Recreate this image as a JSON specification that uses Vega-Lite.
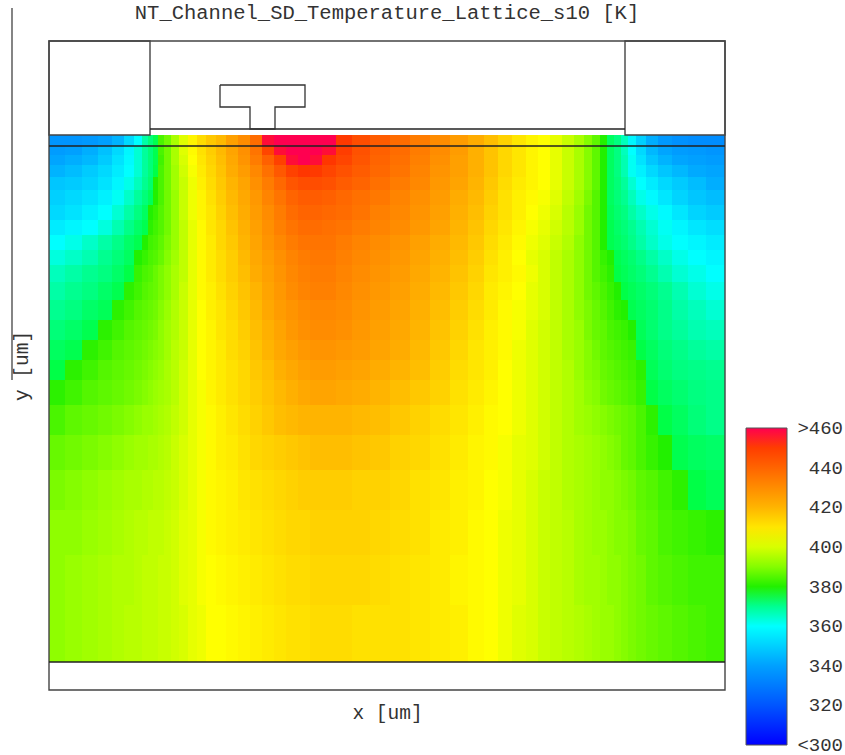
{"$schema":"https://vega.github.io/schema/vega-lite/v6.json","width":676,"height":649,"autosize":"none","padding":{"left":49,"top":41,"right":120,"bottom":65},"background":"white","title":{"text":"NT_Channel_SD_Temperature_Lattice_s10 [K]","font":"Liberation Mono","fontSize":20.5,"fontWeight":"normal","color":"#333333","anchor":"middle","offset":-16},"config":{"view":{"stroke":null}},"datasets":{"cols":[{"col":0,"x0":0,"x1":16},{"col":1,"x0":16,"x1":33},{"col":2,"x0":33,"x1":49},{"col":3,"x0":49,"x1":63},{"col":4,"x0":63,"x1":75},{"col":5,"x0":75,"x1":85},{"col":6,"x0":85,"x1":93},{"col":7,"x0":93,"x1":99},{"col":8,"x0":99,"x1":104},{"col":9,"x0":104,"x1":109},{"col":10,"x0":109,"x1":115},{"col":11,"x0":115,"x1":122},{"col":12,"x0":122,"x1":130},{"col":13,"x0":130,"x1":139},{"col":14,"x0":139,"x1":148},{"col":15,"x0":148,"x1":157},{"col":16,"x0":157,"x1":167},{"col":17,"x0":167,"x1":177},{"col":18,"x0":177,"x1":189},{"col":19,"x0":189,"x1":201},{"col":20,"x0":201,"x1":213},{"col":21,"x0":213,"x1":225},{"col":22,"x0":225,"x1":237},{"col":23,"x0":237,"x1":249},{"col":24,"x0":249,"x1":261},{"col":25,"x0":261,"x1":273},{"col":26,"x0":273,"x1":287},{"col":27,"x0":287,"x1":303},{"col":28,"x0":303,"x1":321},{"col":29,"x0":321,"x1":341},{"col":30,"x0":341,"x1":361},{"col":31,"x0":361,"x1":381},{"col":32,"x0":381,"x1":401},{"col":33,"x0":401,"x1":419},{"col":34,"x0":419,"x1":435},{"col":35,"x0":435,"x1":449},{"col":36,"x0":449,"x1":463},{"col":37,"x0":463,"x1":477},{"col":38,"x0":477,"x1":489},{"col":39,"x0":489,"x1":501},{"col":40,"x0":501,"x1":513},{"col":41,"x0":513,"x1":525},{"col":42,"x0":525,"x1":535},{"col":43,"x0":535,"x1":543},{"col":44,"x0":543,"x1":551},{"col":45,"x0":551,"x1":558},{"col":46,"x0":558,"x1":565},{"col":47,"x0":565,"x1":572},{"col":48,"x0":572,"x1":579},{"col":49,"x0":579,"x1":587},{"col":50,"x0":587,"x1":597},{"col":51,"x0":597,"x1":609},{"col":52,"x0":609,"x1":623},{"col":53,"x0":623,"x1":639},{"col":54,"x0":639,"x1":657},{"col":55,"x0":657,"x1":676}],"rows":[{"row":0,"y0":94,"y1":105},{"row":1,"y0":105,"y1":114},{"row":2,"y0":114,"y1":124},{"row":3,"y0":124,"y1":136},{"row":4,"y0":136,"y1":149},{"row":5,"y0":149,"y1":164},{"row":6,"y0":164,"y1":179},{"row":7,"y0":179,"y1":194},{"row":8,"y0":194,"y1":209},{"row":9,"y0":209,"y1":224},{"row":10,"y0":224,"y1":241},{"row":11,"y0":241,"y1":259},{"row":12,"y0":259,"y1":279},{"row":13,"y0":279,"y1":299},{"row":14,"y0":299,"y1":319},{"row":15,"y0":319,"y1":339},{"row":16,"y0":339,"y1":364},{"row":17,"y0":364,"y1":394},{"row":18,"y0":394,"y1":429},{"row":19,"y0":429,"y1":469},{"row":20,"y0":469,"y1":514},{"row":21,"y0":514,"y1":564},{"row":22,"y0":564,"y1":621}],"cells":[
{"col":0,"row":0,"T":337},{"col":1,"row":0,"T":337},{"col":2,"row":0,"T":338},{"col":3,"row":0,"T":340},{"col":4,"row":0,"T":344},{"col":5,"row":0,"T":352},{"col":6,"row":0,"T":360},{"col":7,"row":0,"T":368},{"col":8,"row":0,"T":373},{"col":9,"row":0,"T":378},{"col":10,"row":0,"T":384},{"col":11,"row":0,"T":388},{"col":12,"row":0,"T":394},{"col":13,"row":0,"T":401},{"col":14,"row":0,"T":407},{"col":15,"row":0,"T":412},{"col":16,"row":0,"T":416},{"col":17,"row":0,"T":419},{"col":18,"row":0,"T":425},{"col":19,"row":0,"T":430},{"col":20,"row":0,"T":438},{"col":21,"row":0,"T":459},{"col":22,"row":0,"T":460},{"col":23,"row":0,"T":462},{"col":24,"row":0,"T":462},{"col":25,"row":0,"T":462},{"col":26,"row":0,"T":460},{"col":27,"row":0,"T":451},{"col":28,"row":0,"T":446},{"col":29,"row":0,"T":442},{"col":30,"row":0,"T":438},{"col":31,"row":0,"T":434},{"col":32,"row":0,"T":430},{"col":33,"row":0,"T":426},{"col":34,"row":0,"T":422},{"col":35,"row":0,"T":418},{"col":36,"row":0,"T":414},{"col":37,"row":0,"T":410},{"col":38,"row":0,"T":407},{"col":39,"row":0,"T":405},{"col":40,"row":0,"T":402},{"col":41,"row":0,"T":398},{"col":42,"row":0,"T":394},{"col":43,"row":0,"T":390},{"col":44,"row":0,"T":386},{"col":45,"row":0,"T":380},{"col":46,"row":0,"T":376},{"col":47,"row":0,"T":372},{"col":48,"row":0,"T":366},{"col":49,"row":0,"T":358},{"col":50,"row":0,"T":350},{"col":51,"row":0,"T":343},{"col":52,"row":0,"T":338},{"col":53,"row":0,"T":336},{"col":54,"row":0,"T":335},{"col":55,"row":0,"T":335},
{"col":0,"row":1,"T":339},{"col":1,"row":1,"T":340},{"col":2,"row":1,"T":343},{"col":3,"row":1,"T":347},{"col":4,"row":1,"T":352},{"col":5,"row":1,"T":358},{"col":6,"row":1,"T":364},{"col":7,"row":1,"T":369},{"col":8,"row":1,"T":373},{"col":9,"row":1,"T":378},{"col":10,"row":1,"T":384},{"col":11,"row":1,"T":388},{"col":12,"row":1,"T":394},{"col":13,"row":1,"T":401},{"col":14,"row":1,"T":406},{"col":15,"row":1,"T":411},{"col":16,"row":1,"T":415},{"col":17,"row":1,"T":419},{"col":18,"row":1,"T":424},{"col":19,"row":1,"T":429},{"col":20,"row":1,"T":436},{"col":21,"row":1,"T":448},{"col":22,"row":1,"T":459},{"col":23,"row":1,"T":461},{"col":24,"row":1,"T":461},{"col":25,"row":1,"T":461},{"col":26,"row":1,"T":459},{"col":27,"row":1,"T":450},{"col":28,"row":1,"T":445},{"col":29,"row":1,"T":441},{"col":30,"row":1,"T":438},{"col":31,"row":1,"T":434},{"col":32,"row":1,"T":430},{"col":33,"row":1,"T":426},{"col":34,"row":1,"T":421},{"col":35,"row":1,"T":417},{"col":36,"row":1,"T":413},{"col":37,"row":1,"T":410},{"col":38,"row":1,"T":407},{"col":39,"row":1,"T":405},{"col":40,"row":1,"T":402},{"col":41,"row":1,"T":398},{"col":42,"row":1,"T":394},{"col":43,"row":1,"T":390},{"col":44,"row":1,"T":386},{"col":45,"row":1,"T":380},{"col":46,"row":1,"T":376},{"col":47,"row":1,"T":372},{"col":48,"row":1,"T":366},{"col":49,"row":1,"T":360},{"col":50,"row":1,"T":352},{"col":51,"row":1,"T":345},{"col":52,"row":1,"T":341},{"col":53,"row":1,"T":339},{"col":54,"row":1,"T":338},{"col":55,"row":1,"T":337},
{"col":0,"row":2,"T":341},{"col":1,"row":2,"T":343},{"col":2,"row":2,"T":345},{"col":3,"row":2,"T":349},{"col":4,"row":2,"T":354},{"col":5,"row":2,"T":359},{"col":6,"row":2,"T":364},{"col":7,"row":2,"T":369},{"col":8,"row":2,"T":373},{"col":9,"row":2,"T":378},{"col":10,"row":2,"T":383},{"col":11,"row":2,"T":388},{"col":12,"row":2,"T":394},{"col":13,"row":2,"T":400},{"col":14,"row":2,"T":405},{"col":15,"row":2,"T":410},{"col":16,"row":2,"T":414},{"col":17,"row":2,"T":418},{"col":18,"row":2,"T":423},{"col":19,"row":2,"T":428},{"col":20,"row":2,"T":434},{"col":21,"row":2,"T":441},{"col":22,"row":2,"T":449},{"col":23,"row":2,"T":459},{"col":24,"row":2,"T":460},{"col":25,"row":2,"T":459},{"col":26,"row":2,"T":452},{"col":27,"row":2,"T":448},{"col":28,"row":2,"T":444},{"col":29,"row":2,"T":440},{"col":30,"row":2,"T":437},{"col":31,"row":2,"T":433},{"col":32,"row":2,"T":429},{"col":33,"row":2,"T":425},{"col":34,"row":2,"T":421},{"col":35,"row":2,"T":417},{"col":36,"row":2,"T":413},{"col":37,"row":2,"T":410},{"col":38,"row":2,"T":407},{"col":39,"row":2,"T":405},{"col":40,"row":2,"T":402},{"col":41,"row":2,"T":398},{"col":42,"row":2,"T":394},{"col":43,"row":2,"T":390},{"col":44,"row":2,"T":386},{"col":45,"row":2,"T":380},{"col":46,"row":2,"T":376},{"col":47,"row":2,"T":372},{"col":48,"row":2,"T":367},{"col":49,"row":2,"T":361},{"col":50,"row":2,"T":354},{"col":51,"row":2,"T":348},{"col":52,"row":2,"T":344},{"col":53,"row":2,"T":341},{"col":54,"row":2,"T":340},{"col":55,"row":2,"T":339},
{"col":0,"row":3,"T":344},{"col":1,"row":3,"T":346},{"col":2,"row":3,"T":349},{"col":3,"row":3,"T":352},{"col":4,"row":3,"T":356},{"col":5,"row":3,"T":360},{"col":6,"row":3,"T":364},{"col":7,"row":3,"T":369},{"col":8,"row":3,"T":373},{"col":9,"row":3,"T":379},{"col":10,"row":3,"T":384},{"col":11,"row":3,"T":388},{"col":12,"row":3,"T":393},{"col":13,"row":3,"T":399},{"col":14,"row":3,"T":404},{"col":15,"row":3,"T":409},{"col":16,"row":3,"T":413},{"col":17,"row":3,"T":417},{"col":18,"row":3,"T":422},{"col":19,"row":3,"T":426},{"col":20,"row":3,"T":431},{"col":21,"row":3,"T":437},{"col":22,"row":3,"T":443},{"col":23,"row":3,"T":449},{"col":24,"row":3,"T":452},{"col":25,"row":3,"T":451},{"col":26,"row":3,"T":448},{"col":27,"row":3,"T":445},{"col":28,"row":3,"T":442},{"col":29,"row":3,"T":439},{"col":30,"row":3,"T":436},{"col":31,"row":3,"T":432},{"col":32,"row":3,"T":428},{"col":33,"row":3,"T":425},{"col":34,"row":3,"T":421},{"col":35,"row":3,"T":417},{"col":36,"row":3,"T":413},{"col":37,"row":3,"T":410},{"col":38,"row":3,"T":407},{"col":39,"row":3,"T":405},{"col":40,"row":3,"T":402},{"col":41,"row":3,"T":398},{"col":42,"row":3,"T":394},{"col":43,"row":3,"T":390},{"col":44,"row":3,"T":386},{"col":45,"row":3,"T":380},{"col":46,"row":3,"T":376},{"col":47,"row":3,"T":372},{"col":48,"row":3,"T":367},{"col":49,"row":3,"T":361},{"col":50,"row":3,"T":357},{"col":51,"row":3,"T":352},{"col":52,"row":3,"T":348},{"col":53,"row":3,"T":345},{"col":54,"row":3,"T":342},{"col":55,"row":3,"T":341},
{"col":0,"row":4,"T":348},{"col":1,"row":4,"T":349},{"col":2,"row":4,"T":351},{"col":3,"row":4,"T":354},{"col":4,"row":4,"T":358},{"col":5,"row":4,"T":362},{"col":6,"row":4,"T":366},{"col":7,"row":4,"T":370},{"col":8,"row":4,"T":374},{"col":9,"row":4,"T":380},{"col":10,"row":4,"T":384},{"col":11,"row":4,"T":388},{"col":12,"row":4,"T":393},{"col":13,"row":4,"T":398},{"col":14,"row":4,"T":403},{"col":15,"row":4,"T":408},{"col":16,"row":4,"T":412},{"col":17,"row":4,"T":416},{"col":18,"row":4,"T":420},{"col":19,"row":4,"T":424},{"col":20,"row":4,"T":429},{"col":21,"row":4,"T":434},{"col":22,"row":4,"T":439},{"col":23,"row":4,"T":444},{"col":24,"row":4,"T":446},{"col":25,"row":4,"T":446},{"col":26,"row":4,"T":445},{"col":27,"row":4,"T":442},{"col":28,"row":4,"T":440},{"col":29,"row":4,"T":437},{"col":30,"row":4,"T":434},{"col":31,"row":4,"T":431},{"col":32,"row":4,"T":427},{"col":33,"row":4,"T":424},{"col":34,"row":4,"T":420},{"col":35,"row":4,"T":416},{"col":36,"row":4,"T":412},{"col":37,"row":4,"T":409},{"col":38,"row":4,"T":407},{"col":39,"row":4,"T":405},{"col":40,"row":4,"T":402},{"col":41,"row":4,"T":398},{"col":42,"row":4,"T":394},{"col":43,"row":4,"T":390},{"col":44,"row":4,"T":386},{"col":45,"row":4,"T":380},{"col":46,"row":4,"T":376},{"col":47,"row":4,"T":373},{"col":48,"row":4,"T":369},{"col":49,"row":4,"T":364},{"col":50,"row":4,"T":360},{"col":51,"row":4,"T":356},{"col":52,"row":4,"T":352},{"col":53,"row":4,"T":349},{"col":54,"row":4,"T":346},{"col":55,"row":4,"T":343},
{"col":0,"row":5,"T":350},{"col":1,"row":5,"T":352},{"col":2,"row":5,"T":354},{"col":3,"row":5,"T":357},{"col":4,"row":5,"T":361},{"col":5,"row":5,"T":365},{"col":6,"row":5,"T":369},{"col":7,"row":5,"T":373},{"col":8,"row":5,"T":377},{"col":9,"row":5,"T":380},{"col":10,"row":5,"T":384},{"col":11,"row":5,"T":388},{"col":12,"row":5,"T":392},{"col":13,"row":5,"T":398},{"col":14,"row":5,"T":403},{"col":15,"row":5,"T":407},{"col":16,"row":5,"T":411},{"col":17,"row":5,"T":415},{"col":18,"row":5,"T":419},{"col":19,"row":5,"T":423},{"col":20,"row":5,"T":427},{"col":21,"row":5,"T":432},{"col":22,"row":5,"T":436},{"col":23,"row":5,"T":440},{"col":24,"row":5,"T":442},{"col":25,"row":5,"T":442},{"col":26,"row":5,"T":441},{"col":27,"row":5,"T":439},{"col":28,"row":5,"T":437},{"col":29,"row":5,"T":435},{"col":30,"row":5,"T":432},{"col":31,"row":5,"T":429},{"col":32,"row":5,"T":426},{"col":33,"row":5,"T":422},{"col":34,"row":5,"T":419},{"col":35,"row":5,"T":415},{"col":36,"row":5,"T":411},{"col":37,"row":5,"T":408},{"col":38,"row":5,"T":406},{"col":39,"row":5,"T":404},{"col":40,"row":5,"T":401},{"col":41,"row":5,"T":397},{"col":42,"row":5,"T":393},{"col":43,"row":5,"T":389},{"col":44,"row":5,"T":385},{"col":45,"row":5,"T":380},{"col":46,"row":5,"T":376},{"col":47,"row":5,"T":373},{"col":48,"row":5,"T":370},{"col":49,"row":5,"T":366},{"col":50,"row":5,"T":362},{"col":51,"row":5,"T":359},{"col":52,"row":5,"T":355},{"col":53,"row":5,"T":351},{"col":54,"row":5,"T":348},{"col":55,"row":5,"T":346},
{"col":0,"row":6,"T":352},{"col":1,"row":6,"T":354},{"col":2,"row":6,"T":357},{"col":3,"row":6,"T":360},{"col":4,"row":6,"T":364},{"col":5,"row":6,"T":368},{"col":6,"row":6,"T":372},{"col":7,"row":6,"T":376},{"col":8,"row":6,"T":380},{"col":9,"row":6,"T":382},{"col":10,"row":6,"T":385},{"col":11,"row":6,"T":388},{"col":12,"row":6,"T":392},{"col":13,"row":6,"T":398},{"col":14,"row":6,"T":403},{"col":15,"row":6,"T":407},{"col":16,"row":6,"T":410},{"col":17,"row":6,"T":414},{"col":18,"row":6,"T":418},{"col":19,"row":6,"T":422},{"col":20,"row":6,"T":426},{"col":21,"row":6,"T":430},{"col":22,"row":6,"T":434},{"col":23,"row":6,"T":438},{"col":24,"row":6,"T":440},{"col":25,"row":6,"T":440},{"col":26,"row":6,"T":439},{"col":27,"row":6,"T":438},{"col":28,"row":6,"T":436},{"col":29,"row":6,"T":433},{"col":30,"row":6,"T":431},{"col":31,"row":6,"T":428},{"col":32,"row":6,"T":425},{"col":33,"row":6,"T":421},{"col":34,"row":6,"T":418},{"col":35,"row":6,"T":414},{"col":36,"row":6,"T":411},{"col":37,"row":6,"T":408},{"col":38,"row":6,"T":405},{"col":39,"row":6,"T":403},{"col":40,"row":6,"T":400},{"col":41,"row":6,"T":396},{"col":42,"row":6,"T":392},{"col":43,"row":6,"T":388},{"col":44,"row":6,"T":385},{"col":45,"row":6,"T":380},{"col":46,"row":6,"T":377},{"col":47,"row":6,"T":374},{"col":48,"row":6,"T":372},{"col":49,"row":6,"T":368},{"col":50,"row":6,"T":365},{"col":51,"row":6,"T":362},{"col":52,"row":6,"T":359},{"col":53,"row":6,"T":355},{"col":54,"row":6,"T":351},{"col":55,"row":6,"T":349},
{"col":0,"row":7,"T":356},{"col":1,"row":7,"T":358},{"col":2,"row":7,"T":360},{"col":3,"row":7,"T":363},{"col":4,"row":7,"T":367},{"col":5,"row":7,"T":371},{"col":6,"row":7,"T":375},{"col":7,"row":7,"T":378},{"col":8,"row":7,"T":381},{"col":9,"row":7,"T":383},{"col":10,"row":7,"T":385},{"col":11,"row":7,"T":388},{"col":12,"row":7,"T":392},{"col":13,"row":7,"T":397},{"col":14,"row":7,"T":402},{"col":15,"row":7,"T":406},{"col":16,"row":7,"T":410},{"col":17,"row":7,"T":413},{"col":18,"row":7,"T":417},{"col":19,"row":7,"T":421},{"col":20,"row":7,"T":425},{"col":21,"row":7,"T":429},{"col":22,"row":7,"T":433},{"col":23,"row":7,"T":436},{"col":24,"row":7,"T":438},{"col":25,"row":7,"T":438},{"col":26,"row":7,"T":437},{"col":27,"row":7,"T":436},{"col":28,"row":7,"T":434},{"col":29,"row":7,"T":432},{"col":30,"row":7,"T":430},{"col":31,"row":7,"T":427},{"col":32,"row":7,"T":424},{"col":33,"row":7,"T":420},{"col":34,"row":7,"T":417},{"col":35,"row":7,"T":413},{"col":36,"row":7,"T":410},{"col":37,"row":7,"T":407},{"col":38,"row":7,"T":404},{"col":39,"row":7,"T":402},{"col":40,"row":7,"T":399},{"col":41,"row":7,"T":396},{"col":42,"row":7,"T":392},{"col":43,"row":7,"T":388},{"col":44,"row":7,"T":385},{"col":45,"row":7,"T":380},{"col":46,"row":7,"T":378},{"col":47,"row":7,"T":375},{"col":48,"row":7,"T":373},{"col":49,"row":7,"T":370},{"col":50,"row":7,"T":367},{"col":51,"row":7,"T":364},{"col":52,"row":7,"T":361},{"col":53,"row":7,"T":358},{"col":54,"row":7,"T":355},{"col":55,"row":7,"T":353},
{"col":0,"row":8,"T":360},{"col":1,"row":8,"T":362},{"col":2,"row":8,"T":365},{"col":3,"row":8,"T":368},{"col":4,"row":8,"T":371},{"col":5,"row":8,"T":375},{"col":6,"row":8,"T":378},{"col":7,"row":8,"T":380},{"col":8,"row":8,"T":383},{"col":9,"row":8,"T":384},{"col":10,"row":8,"T":386},{"col":11,"row":8,"T":389},{"col":12,"row":8,"T":392},{"col":13,"row":8,"T":397},{"col":14,"row":8,"T":402},{"col":15,"row":8,"T":406},{"col":16,"row":8,"T":409},{"col":17,"row":8,"T":413},{"col":18,"row":8,"T":416},{"col":19,"row":8,"T":420},{"col":20,"row":8,"T":424},{"col":21,"row":8,"T":428},{"col":22,"row":8,"T":431},{"col":23,"row":8,"T":434},{"col":24,"row":8,"T":436},{"col":25,"row":8,"T":436},{"col":26,"row":8,"T":436},{"col":27,"row":8,"T":434},{"col":28,"row":8,"T":432},{"col":29,"row":8,"T":430},{"col":30,"row":8,"T":428},{"col":31,"row":8,"T":425},{"col":32,"row":8,"T":422},{"col":33,"row":8,"T":419},{"col":34,"row":8,"T":416},{"col":35,"row":8,"T":412},{"col":36,"row":8,"T":409},{"col":37,"row":8,"T":406},{"col":38,"row":8,"T":403},{"col":39,"row":8,"T":401},{"col":40,"row":8,"T":398},{"col":41,"row":8,"T":395},{"col":42,"row":8,"T":391},{"col":43,"row":8,"T":388},{"col":44,"row":8,"T":385},{"col":45,"row":8,"T":380},{"col":46,"row":8,"T":378},{"col":47,"row":8,"T":376},{"col":48,"row":8,"T":374},{"col":49,"row":8,"T":371},{"col":50,"row":8,"T":368},{"col":51,"row":8,"T":365},{"col":52,"row":8,"T":362},{"col":53,"row":8,"T":360},{"col":54,"row":8,"T":358},{"col":55,"row":8,"T":356},
{"col":0,"row":9,"T":363},{"col":1,"row":9,"T":365},{"col":2,"row":9,"T":367},{"col":3,"row":9,"T":370},{"col":4,"row":9,"T":373},{"col":5,"row":9,"T":376},{"col":6,"row":9,"T":380},{"col":7,"row":9,"T":382},{"col":8,"row":9,"T":384},{"col":9,"row":9,"T":385},{"col":10,"row":9,"T":387},{"col":11,"row":9,"T":390},{"col":12,"row":9,"T":393},{"col":13,"row":9,"T":397},{"col":14,"row":9,"T":402},{"col":15,"row":9,"T":406},{"col":16,"row":9,"T":409},{"col":17,"row":9,"T":412},{"col":18,"row":9,"T":415},{"col":19,"row":9,"T":419},{"col":20,"row":9,"T":423},{"col":21,"row":9,"T":426},{"col":22,"row":9,"T":429},{"col":23,"row":9,"T":432},{"col":24,"row":9,"T":434},{"col":25,"row":9,"T":435},{"col":26,"row":9,"T":435},{"col":27,"row":9,"T":433},{"col":28,"row":9,"T":431},{"col":29,"row":9,"T":429},{"col":30,"row":9,"T":427},{"col":31,"row":9,"T":424},{"col":32,"row":9,"T":421},{"col":33,"row":9,"T":418},{"col":34,"row":9,"T":415},{"col":35,"row":9,"T":411},{"col":36,"row":9,"T":408},{"col":37,"row":9,"T":405},{"col":38,"row":9,"T":402},{"col":39,"row":9,"T":400},{"col":40,"row":9,"T":397},{"col":41,"row":9,"T":394},{"col":42,"row":9,"T":391},{"col":43,"row":9,"T":388},{"col":44,"row":9,"T":385},{"col":45,"row":9,"T":382},{"col":46,"row":9,"T":380},{"col":47,"row":9,"T":378},{"col":48,"row":9,"T":376},{"col":49,"row":9,"T":374},{"col":50,"row":9,"T":371},{"col":51,"row":9,"T":368},{"col":52,"row":9,"T":365},{"col":53,"row":9,"T":362},{"col":54,"row":9,"T":360},{"col":55,"row":9,"T":358},
{"col":0,"row":10,"T":366},{"col":1,"row":10,"T":368},{"col":2,"row":10,"T":370},{"col":3,"row":10,"T":372},{"col":4,"row":10,"T":375},{"col":5,"row":10,"T":379},{"col":6,"row":10,"T":382},{"col":7,"row":10,"T":384},{"col":8,"row":10,"T":385},{"col":9,"row":10,"T":387},{"col":10,"row":10,"T":389},{"col":11,"row":10,"T":391},{"col":12,"row":10,"T":394},{"col":13,"row":10,"T":397},{"col":14,"row":10,"T":402},{"col":15,"row":10,"T":406},{"col":16,"row":10,"T":409},{"col":17,"row":10,"T":412},{"col":18,"row":10,"T":415},{"col":19,"row":10,"T":418},{"col":20,"row":10,"T":422},{"col":21,"row":10,"T":425},{"col":22,"row":10,"T":428},{"col":23,"row":10,"T":431},{"col":24,"row":10,"T":433},{"col":25,"row":10,"T":434},{"col":26,"row":10,"T":434},{"col":27,"row":10,"T":432},{"col":28,"row":10,"T":430},{"col":29,"row":10,"T":428},{"col":30,"row":10,"T":426},{"col":31,"row":10,"T":423},{"col":32,"row":10,"T":420},{"col":33,"row":10,"T":417},{"col":34,"row":10,"T":414},{"col":35,"row":10,"T":410},{"col":36,"row":10,"T":408},{"col":37,"row":10,"T":406},{"col":38,"row":10,"T":403},{"col":39,"row":10,"T":400},{"col":40,"row":10,"T":397},{"col":41,"row":10,"T":394},{"col":42,"row":10,"T":391},{"col":43,"row":10,"T":388},{"col":44,"row":10,"T":385},{"col":45,"row":10,"T":383},{"col":46,"row":10,"T":381},{"col":47,"row":10,"T":379},{"col":48,"row":10,"T":377},{"col":49,"row":10,"T":375},{"col":50,"row":10,"T":373},{"col":51,"row":10,"T":370},{"col":52,"row":10,"T":367},{"col":53,"row":10,"T":364},{"col":54,"row":10,"T":362},{"col":55,"row":10,"T":360},
{"col":0,"row":11,"T":368},{"col":1,"row":11,"T":370},{"col":2,"row":11,"T":372},{"col":3,"row":11,"T":375},{"col":4,"row":11,"T":378},{"col":5,"row":11,"T":381},{"col":6,"row":11,"T":383},{"col":7,"row":11,"T":385},{"col":8,"row":11,"T":386},{"col":9,"row":11,"T":387},{"col":10,"row":11,"T":389},{"col":11,"row":11,"T":391},{"col":12,"row":11,"T":394},{"col":13,"row":11,"T":398},{"col":14,"row":11,"T":402},{"col":15,"row":11,"T":406},{"col":16,"row":11,"T":408},{"col":17,"row":11,"T":411},{"col":18,"row":11,"T":414},{"col":19,"row":11,"T":417},{"col":20,"row":11,"T":420},{"col":21,"row":11,"T":424},{"col":22,"row":11,"T":427},{"col":23,"row":11,"T":430},{"col":24,"row":11,"T":432},{"col":25,"row":11,"T":433},{"col":26,"row":11,"T":433},{"col":27,"row":11,"T":431},{"col":28,"row":11,"T":429},{"col":29,"row":11,"T":427},{"col":30,"row":11,"T":425},{"col":31,"row":11,"T":422},{"col":32,"row":11,"T":419},{"col":33,"row":11,"T":416},{"col":34,"row":11,"T":413},{"col":35,"row":11,"T":409},{"col":36,"row":11,"T":407},{"col":37,"row":11,"T":405},{"col":38,"row":11,"T":402},{"col":39,"row":11,"T":400},{"col":40,"row":11,"T":397},{"col":41,"row":11,"T":394},{"col":42,"row":11,"T":391},{"col":43,"row":11,"T":388},{"col":44,"row":11,"T":386},{"col":45,"row":11,"T":384},{"col":46,"row":11,"T":382},{"col":47,"row":11,"T":380},{"col":48,"row":11,"T":379},{"col":49,"row":11,"T":377},{"col":50,"row":11,"T":375},{"col":51,"row":11,"T":373},{"col":52,"row":11,"T":370},{"col":53,"row":11,"T":367},{"col":54,"row":11,"T":364},{"col":55,"row":11,"T":362},
{"col":0,"row":12,"T":370},{"col":1,"row":12,"T":372},{"col":2,"row":12,"T":375},{"col":3,"row":12,"T":377},{"col":4,"row":12,"T":381},{"col":5,"row":12,"T":383},{"col":6,"row":12,"T":385},{"col":7,"row":12,"T":386},{"col":8,"row":12,"T":387},{"col":9,"row":12,"T":388},{"col":10,"row":12,"T":390},{"col":11,"row":12,"T":392},{"col":12,"row":12,"T":395},{"col":13,"row":12,"T":398},{"col":14,"row":12,"T":402},{"col":15,"row":12,"T":405},{"col":16,"row":12,"T":408},{"col":17,"row":12,"T":410},{"col":18,"row":12,"T":413},{"col":19,"row":12,"T":416},{"col":20,"row":12,"T":419},{"col":21,"row":12,"T":423},{"col":22,"row":12,"T":426},{"col":23,"row":12,"T":428},{"col":24,"row":12,"T":430},{"col":25,"row":12,"T":431},{"col":26,"row":12,"T":431},{"col":27,"row":12,"T":430},{"col":28,"row":12,"T":428},{"col":29,"row":12,"T":426},{"col":30,"row":12,"T":424},{"col":31,"row":12,"T":421},{"col":32,"row":12,"T":418},{"col":33,"row":12,"T":415},{"col":34,"row":12,"T":412},{"col":35,"row":12,"T":409},{"col":36,"row":12,"T":406},{"col":37,"row":12,"T":404},{"col":38,"row":12,"T":402},{"col":39,"row":12,"T":400},{"col":40,"row":12,"T":397},{"col":41,"row":12,"T":394},{"col":42,"row":12,"T":391},{"col":43,"row":12,"T":389},{"col":44,"row":12,"T":387},{"col":45,"row":12,"T":385},{"col":46,"row":12,"T":383},{"col":47,"row":12,"T":381},{"col":48,"row":12,"T":380},{"col":49,"row":12,"T":378},{"col":50,"row":12,"T":376},{"col":51,"row":12,"T":374},{"col":52,"row":12,"T":371},{"col":53,"row":12,"T":368},{"col":54,"row":12,"T":366},{"col":55,"row":12,"T":364},
{"col":0,"row":13,"T":373},{"col":1,"row":13,"T":375},{"col":2,"row":13,"T":378},{"col":3,"row":13,"T":381},{"col":4,"row":13,"T":383},{"col":5,"row":13,"T":385},{"col":6,"row":13,"T":386},{"col":7,"row":13,"T":387},{"col":8,"row":13,"T":388},{"col":9,"row":13,"T":389},{"col":10,"row":13,"T":391},{"col":11,"row":13,"T":393},{"col":12,"row":13,"T":395},{"col":13,"row":13,"T":398},{"col":14,"row":13,"T":402},{"col":15,"row":13,"T":405},{"col":16,"row":13,"T":407},{"col":17,"row":13,"T":410},{"col":18,"row":13,"T":412},{"col":19,"row":13,"T":415},{"col":20,"row":13,"T":418},{"col":21,"row":13,"T":421},{"col":22,"row":13,"T":424},{"col":23,"row":13,"T":427},{"col":24,"row":13,"T":429},{"col":25,"row":13,"T":430},{"col":26,"row":13,"T":430},{"col":27,"row":13,"T":429},{"col":28,"row":13,"T":427},{"col":29,"row":13,"T":425},{"col":30,"row":13,"T":423},{"col":31,"row":13,"T":420},{"col":32,"row":13,"T":417},{"col":33,"row":13,"T":414},{"col":34,"row":13,"T":411},{"col":35,"row":13,"T":408},{"col":36,"row":13,"T":406},{"col":37,"row":13,"T":404},{"col":38,"row":13,"T":401},{"col":39,"row":13,"T":399},{"col":40,"row":13,"T":397},{"col":41,"row":13,"T":394},{"col":42,"row":13,"T":392},{"col":43,"row":13,"T":389},{"col":44,"row":13,"T":387},{"col":45,"row":13,"T":386},{"col":46,"row":13,"T":384},{"col":47,"row":13,"T":383},{"col":48,"row":13,"T":382},{"col":49,"row":13,"T":380},{"col":50,"row":13,"T":377},{"col":51,"row":13,"T":374},{"col":52,"row":13,"T":371},{"col":53,"row":13,"T":369},{"col":54,"row":13,"T":367},{"col":55,"row":13,"T":366},
{"col":0,"row":14,"T":376},{"col":1,"row":14,"T":378},{"col":2,"row":14,"T":381},{"col":3,"row":14,"T":383},{"col":4,"row":14,"T":385},{"col":5,"row":14,"T":386},{"col":6,"row":14,"T":387},{"col":7,"row":14,"T":388},{"col":8,"row":14,"T":389},{"col":9,"row":14,"T":390},{"col":10,"row":14,"T":391},{"col":11,"row":14,"T":393},{"col":12,"row":14,"T":396},{"col":13,"row":14,"T":398},{"col":14,"row":14,"T":402},{"col":15,"row":14,"T":405},{"col":16,"row":14,"T":407},{"col":17,"row":14,"T":409},{"col":18,"row":14,"T":412},{"col":19,"row":14,"T":414},{"col":20,"row":14,"T":417},{"col":21,"row":14,"T":420},{"col":22,"row":14,"T":423},{"col":23,"row":14,"T":425},{"col":24,"row":14,"T":427},{"col":25,"row":14,"T":428},{"col":26,"row":14,"T":428},{"col":27,"row":14,"T":427},{"col":28,"row":14,"T":426},{"col":29,"row":14,"T":424},{"col":30,"row":14,"T":422},{"col":31,"row":14,"T":419},{"col":32,"row":14,"T":416},{"col":33,"row":14,"T":413},{"col":34,"row":14,"T":410},{"col":35,"row":14,"T":408},{"col":36,"row":14,"T":406},{"col":37,"row":14,"T":403},{"col":38,"row":14,"T":401},{"col":39,"row":14,"T":399},{"col":40,"row":14,"T":397},{"col":41,"row":14,"T":394},{"col":42,"row":14,"T":392},{"col":43,"row":14,"T":390},{"col":44,"row":14,"T":388},{"col":45,"row":14,"T":386},{"col":46,"row":14,"T":385},{"col":47,"row":14,"T":384},{"col":48,"row":14,"T":383},{"col":49,"row":14,"T":382},{"col":50,"row":14,"T":379},{"col":51,"row":14,"T":376},{"col":52,"row":14,"T":373},{"col":53,"row":14,"T":371},{"col":54,"row":14,"T":369},{"col":55,"row":14,"T":368},
{"col":0,"row":15,"T":379},{"col":1,"row":15,"T":381},{"col":2,"row":15,"T":383},{"col":3,"row":15,"T":385},{"col":4,"row":15,"T":386},{"col":5,"row":15,"T":387},{"col":6,"row":15,"T":388},{"col":7,"row":15,"T":389},{"col":8,"row":15,"T":390},{"col":9,"row":15,"T":391},{"col":10,"row":15,"T":392},{"col":11,"row":15,"T":394},{"col":12,"row":15,"T":396},{"col":13,"row":15,"T":399},{"col":14,"row":15,"T":402},{"col":15,"row":15,"T":405},{"col":16,"row":15,"T":407},{"col":17,"row":15,"T":409},{"col":18,"row":15,"T":411},{"col":19,"row":15,"T":413},{"col":20,"row":15,"T":416},{"col":21,"row":15,"T":418},{"col":22,"row":15,"T":421},{"col":23,"row":15,"T":423},{"col":24,"row":15,"T":425},{"col":25,"row":15,"T":426},{"col":26,"row":15,"T":426},{"col":27,"row":15,"T":425},{"col":28,"row":15,"T":424},{"col":29,"row":15,"T":422},{"col":30,"row":15,"T":420},{"col":31,"row":15,"T":418},{"col":32,"row":15,"T":415},{"col":33,"row":15,"T":412},{"col":34,"row":15,"T":410},{"col":35,"row":15,"T":408},{"col":36,"row":15,"T":405},{"col":37,"row":15,"T":403},{"col":38,"row":15,"T":401},{"col":39,"row":15,"T":399},{"col":40,"row":15,"T":397},{"col":41,"row":15,"T":395},{"col":42,"row":15,"T":392},{"col":43,"row":15,"T":390},{"col":44,"row":15,"T":389},{"col":45,"row":15,"T":387},{"col":46,"row":15,"T":386},{"col":47,"row":15,"T":385},{"col":48,"row":15,"T":384},{"col":49,"row":15,"T":383},{"col":50,"row":15,"T":381},{"col":51,"row":15,"T":377},{"col":52,"row":15,"T":374},{"col":53,"row":15,"T":372},{"col":54,"row":15,"T":371},{"col":55,"row":15,"T":370},
{"col":0,"row":16,"T":381},{"col":1,"row":16,"T":383},{"col":2,"row":16,"T":385},{"col":3,"row":16,"T":386},{"col":4,"row":16,"T":387},{"col":5,"row":16,"T":388},{"col":6,"row":16,"T":389},{"col":7,"row":16,"T":390},{"col":8,"row":16,"T":391},{"col":9,"row":16,"T":392},{"col":10,"row":16,"T":393},{"col":11,"row":16,"T":394},{"col":12,"row":16,"T":396},{"col":13,"row":16,"T":399},{"col":14,"row":16,"T":402},{"col":15,"row":16,"T":404},{"col":16,"row":16,"T":407},{"col":17,"row":16,"T":409},{"col":18,"row":16,"T":411},{"col":19,"row":16,"T":413},{"col":20,"row":16,"T":415},{"col":21,"row":16,"T":417},{"col":22,"row":16,"T":419},{"col":23,"row":16,"T":421},{"col":24,"row":16,"T":423},{"col":25,"row":16,"T":424},{"col":26,"row":16,"T":424},{"col":27,"row":16,"T":423},{"col":28,"row":16,"T":422},{"col":29,"row":16,"T":420},{"col":30,"row":16,"T":418},{"col":31,"row":16,"T":416},{"col":32,"row":16,"T":414},{"col":33,"row":16,"T":411},{"col":34,"row":16,"T":409},{"col":35,"row":16,"T":407},{"col":36,"row":16,"T":405},{"col":37,"row":16,"T":403},{"col":38,"row":16,"T":401},{"col":39,"row":16,"T":399},{"col":40,"row":16,"T":397},{"col":41,"row":16,"T":395},{"col":42,"row":16,"T":393},{"col":43,"row":16,"T":391},{"col":44,"row":16,"T":390},{"col":45,"row":16,"T":388},{"col":46,"row":16,"T":387},{"col":47,"row":16,"T":386},{"col":48,"row":16,"T":385},{"col":49,"row":16,"T":384},{"col":50,"row":16,"T":382},{"col":51,"row":16,"T":379},{"col":52,"row":16,"T":376},{"col":53,"row":16,"T":374},{"col":54,"row":16,"T":372},{"col":55,"row":16,"T":371},
{"col":0,"row":17,"T":384},{"col":1,"row":17,"T":386},{"col":2,"row":17,"T":387},{"col":3,"row":17,"T":388},{"col":4,"row":17,"T":389},{"col":5,"row":17,"T":390},{"col":6,"row":17,"T":391},{"col":7,"row":17,"T":392},{"col":8,"row":17,"T":392},{"col":9,"row":17,"T":393},{"col":10,"row":17,"T":394},{"col":11,"row":17,"T":395},{"col":12,"row":17,"T":397},{"col":13,"row":17,"T":399},{"col":14,"row":17,"T":402},{"col":15,"row":17,"T":404},{"col":16,"row":17,"T":406},{"col":17,"row":17,"T":408},{"col":18,"row":17,"T":410},{"col":19,"row":17,"T":412},{"col":20,"row":17,"T":414},{"col":21,"row":17,"T":416},{"col":22,"row":17,"T":418},{"col":23,"row":17,"T":419},{"col":24,"row":17,"T":420},{"col":25,"row":17,"T":420},{"col":26,"row":17,"T":420},{"col":27,"row":17,"T":420},{"col":28,"row":17,"T":419},{"col":29,"row":17,"T":418},{"col":30,"row":17,"T":416},{"col":31,"row":17,"T":414},{"col":32,"row":17,"T":412},{"col":33,"row":17,"T":410},{"col":34,"row":17,"T":408},{"col":35,"row":17,"T":406},{"col":36,"row":17,"T":405},{"col":37,"row":17,"T":403},{"col":38,"row":17,"T":401},{"col":39,"row":17,"T":399},{"col":40,"row":17,"T":397},{"col":41,"row":17,"T":395},{"col":42,"row":17,"T":393},{"col":43,"row":17,"T":392},{"col":44,"row":17,"T":391},{"col":45,"row":17,"T":390},{"col":46,"row":17,"T":389},{"col":47,"row":17,"T":388},{"col":48,"row":17,"T":387},{"col":49,"row":17,"T":386},{"col":50,"row":17,"T":384},{"col":51,"row":17,"T":381},{"col":52,"row":17,"T":379},{"col":53,"row":17,"T":376},{"col":54,"row":17,"T":373},{"col":55,"row":17,"T":371},
{"col":0,"row":18,"T":387},{"col":1,"row":18,"T":388},{"col":2,"row":18,"T":389},{"col":3,"row":18,"T":390},{"col":4,"row":18,"T":391},{"col":5,"row":18,"T":392},{"col":6,"row":18,"T":393},{"col":7,"row":18,"T":393},{"col":8,"row":18,"T":394},{"col":9,"row":18,"T":394},{"col":10,"row":18,"T":395},{"col":11,"row":18,"T":396},{"col":12,"row":18,"T":398},{"col":13,"row":18,"T":400},{"col":14,"row":18,"T":402},{"col":15,"row":18,"T":404},{"col":16,"row":18,"T":406},{"col":17,"row":18,"T":408},{"col":18,"row":18,"T":409},{"col":19,"row":18,"T":411},{"col":20,"row":18,"T":413},{"col":21,"row":18,"T":414},{"col":22,"row":18,"T":415},{"col":23,"row":18,"T":416},{"col":24,"row":18,"T":417},{"col":25,"row":18,"T":418},{"col":26,"row":18,"T":418},{"col":27,"row":18,"T":418},{"col":28,"row":18,"T":417},{"col":29,"row":18,"T":416},{"col":30,"row":18,"T":414},{"col":31,"row":18,"T":413},{"col":32,"row":18,"T":411},{"col":33,"row":18,"T":409},{"col":34,"row":18,"T":407},{"col":35,"row":18,"T":406},{"col":36,"row":18,"T":404},{"col":37,"row":18,"T":402},{"col":38,"row":18,"T":401},{"col":39,"row":18,"T":399},{"col":40,"row":18,"T":397},{"col":41,"row":18,"T":395},{"col":42,"row":18,"T":394},{"col":43,"row":18,"T":393},{"col":44,"row":18,"T":392},{"col":45,"row":18,"T":391},{"col":46,"row":18,"T":390},{"col":47,"row":18,"T":389},{"col":48,"row":18,"T":387},{"col":49,"row":18,"T":386},{"col":50,"row":18,"T":384},{"col":51,"row":18,"T":382},{"col":52,"row":18,"T":380},{"col":53,"row":18,"T":378},{"col":54,"row":18,"T":376},{"col":55,"row":18,"T":375},
{"col":0,"row":19,"T":389},{"col":1,"row":19,"T":390},{"col":2,"row":19,"T":391},{"col":3,"row":19,"T":392},{"col":4,"row":19,"T":393},{"col":5,"row":19,"T":394},{"col":6,"row":19,"T":394},{"col":7,"row":19,"T":395},{"col":8,"row":19,"T":395},{"col":9,"row":19,"T":396},{"col":10,"row":19,"T":396},{"col":11,"row":19,"T":397},{"col":12,"row":19,"T":398},{"col":13,"row":19,"T":400},{"col":14,"row":19,"T":402},{"col":15,"row":19,"T":404},{"col":16,"row":19,"T":406},{"col":17,"row":19,"T":407},{"col":18,"row":19,"T":408},{"col":19,"row":19,"T":410},{"col":20,"row":19,"T":411},{"col":21,"row":19,"T":412},{"col":22,"row":19,"T":413},{"col":23,"row":19,"T":414},{"col":24,"row":19,"T":415},{"col":25,"row":19,"T":415},{"col":26,"row":19,"T":415},{"col":27,"row":19,"T":415},{"col":28,"row":19,"T":414},{"col":29,"row":19,"T":414},{"col":30,"row":19,"T":413},{"col":31,"row":19,"T":411},{"col":32,"row":19,"T":410},{"col":33,"row":19,"T":408},{"col":34,"row":19,"T":407},{"col":35,"row":19,"T":405},{"col":36,"row":19,"T":404},{"col":37,"row":19,"T":402},{"col":38,"row":19,"T":400},{"col":39,"row":19,"T":398},{"col":40,"row":19,"T":397},{"col":41,"row":19,"T":395},{"col":42,"row":19,"T":394},{"col":43,"row":19,"T":393},{"col":44,"row":19,"T":392},{"col":45,"row":19,"T":391},{"col":46,"row":19,"T":391},{"col":47,"row":19,"T":390},{"col":48,"row":19,"T":389},{"col":49,"row":19,"T":388},{"col":50,"row":19,"T":386},{"col":51,"row":19,"T":385},{"col":52,"row":19,"T":383},{"col":53,"row":19,"T":381},{"col":54,"row":19,"T":379},{"col":55,"row":19,"T":377},
{"col":0,"row":20,"T":391},{"col":1,"row":20,"T":391},{"col":2,"row":20,"T":392},{"col":3,"row":20,"T":393},{"col":4,"row":20,"T":394},{"col":5,"row":20,"T":395},{"col":6,"row":20,"T":396},{"col":7,"row":20,"T":396},{"col":8,"row":20,"T":397},{"col":9,"row":20,"T":397},{"col":10,"row":20,"T":397},{"col":11,"row":20,"T":398},{"col":12,"row":20,"T":399},{"col":13,"row":20,"T":401},{"col":14,"row":20,"T":402},{"col":15,"row":20,"T":404},{"col":16,"row":20,"T":406},{"col":17,"row":20,"T":407},{"col":18,"row":20,"T":408},{"col":19,"row":20,"T":409},{"col":20,"row":20,"T":410},{"col":21,"row":20,"T":411},{"col":22,"row":20,"T":412},{"col":23,"row":20,"T":413},{"col":24,"row":20,"T":413},{"col":25,"row":20,"T":414},{"col":26,"row":20,"T":414},{"col":27,"row":20,"T":414},{"col":28,"row":20,"T":414},{"col":29,"row":20,"T":413},{"col":30,"row":20,"T":412},{"col":31,"row":20,"T":411},{"col":32,"row":20,"T":409},{"col":33,"row":20,"T":408},{"col":34,"row":20,"T":406},{"col":35,"row":20,"T":405},{"col":36,"row":20,"T":403},{"col":37,"row":20,"T":402},{"col":38,"row":20,"T":400},{"col":39,"row":20,"T":398},{"col":40,"row":20,"T":397},{"col":41,"row":20,"T":396},{"col":42,"row":20,"T":394},{"col":43,"row":20,"T":393},{"col":44,"row":20,"T":392},{"col":45,"row":20,"T":392},{"col":46,"row":20,"T":391},{"col":47,"row":20,"T":390},{"col":48,"row":20,"T":390},{"col":49,"row":20,"T":389},{"col":50,"row":20,"T":387},{"col":51,"row":20,"T":386},{"col":52,"row":20,"T":384},{"col":53,"row":20,"T":383},{"col":54,"row":20,"T":382},{"col":55,"row":20,"T":381},
{"col":0,"row":21,"T":391},{"col":1,"row":21,"T":392},{"col":2,"row":21,"T":393},{"col":3,"row":21,"T":394},{"col":4,"row":21,"T":395},{"col":5,"row":21,"T":395},{"col":6,"row":21,"T":396},{"col":7,"row":21,"T":397},{"col":8,"row":21,"T":397},{"col":9,"row":21,"T":397},{"col":10,"row":21,"T":398},{"col":11,"row":21,"T":398},{"col":12,"row":21,"T":399},{"col":13,"row":21,"T":401},{"col":14,"row":21,"T":402},{"col":15,"row":21,"T":404},{"col":16,"row":21,"T":405},{"col":17,"row":21,"T":406},{"col":18,"row":21,"T":407},{"col":19,"row":21,"T":408},{"col":20,"row":21,"T":409},{"col":21,"row":21,"T":410},{"col":22,"row":21,"T":411},{"col":23,"row":21,"T":412},{"col":24,"row":21,"T":412},{"col":25,"row":21,"T":413},{"col":26,"row":21,"T":413},{"col":27,"row":21,"T":413},{"col":28,"row":21,"T":413},{"col":29,"row":21,"T":412},{"col":30,"row":21,"T":411},{"col":31,"row":21,"T":410},{"col":32,"row":21,"T":409},{"col":33,"row":21,"T":407},{"col":34,"row":21,"T":406},{"col":35,"row":21,"T":405},{"col":36,"row":21,"T":403},{"col":37,"row":21,"T":402},{"col":38,"row":21,"T":400},{"col":39,"row":21,"T":398},{"col":40,"row":21,"T":397},{"col":41,"row":21,"T":396},{"col":42,"row":21,"T":394},{"col":43,"row":21,"T":393},{"col":44,"row":21,"T":393},{"col":45,"row":21,"T":392},{"col":46,"row":21,"T":391},{"col":47,"row":21,"T":391},{"col":48,"row":21,"T":390},{"col":49,"row":21,"T":389},{"col":50,"row":21,"T":388},{"col":51,"row":21,"T":386},{"col":52,"row":21,"T":385},{"col":53,"row":21,"T":384},{"col":54,"row":21,"T":383},{"col":55,"row":21,"T":383},
{"col":0,"row":22,"T":391},{"col":1,"row":22,"T":392},{"col":2,"row":22,"T":393},{"col":3,"row":22,"T":394},{"col":4,"row":22,"T":395},{"col":5,"row":22,"T":396},{"col":6,"row":22,"T":396},{"col":7,"row":22,"T":397},{"col":8,"row":22,"T":397},{"col":9,"row":22,"T":397},{"col":10,"row":22,"T":398},{"col":11,"row":22,"T":398},{"col":12,"row":22,"T":399},{"col":13,"row":22,"T":400},{"col":14,"row":22,"T":402},{"col":15,"row":22,"T":403},{"col":16,"row":22,"T":405},{"col":17,"row":22,"T":405},{"col":18,"row":22,"T":406},{"col":19,"row":22,"T":407},{"col":20,"row":22,"T":408},{"col":21,"row":22,"T":409},{"col":22,"row":22,"T":410},{"col":23,"row":22,"T":411},{"col":24,"row":22,"T":411},{"col":25,"row":22,"T":412},{"col":26,"row":22,"T":412},{"col":27,"row":22,"T":412},{"col":28,"row":22,"T":411},{"col":29,"row":22,"T":411},{"col":30,"row":22,"T":411},{"col":31,"row":22,"T":410},{"col":32,"row":22,"T":409},{"col":33,"row":22,"T":408},{"col":34,"row":22,"T":406},{"col":35,"row":22,"T":405},{"col":36,"row":22,"T":403},{"col":37,"row":22,"T":401},{"col":38,"row":22,"T":400},{"col":39,"row":22,"T":398},{"col":40,"row":22,"T":397},{"col":41,"row":22,"T":396},{"col":42,"row":22,"T":395},{"col":43,"row":22,"T":394},{"col":44,"row":22,"T":393},{"col":45,"row":22,"T":392},{"col":46,"row":22,"T":392},{"col":47,"row":22,"T":391},{"col":48,"row":22,"T":390},{"col":49,"row":22,"T":389},{"col":50,"row":22,"T":388},{"col":51,"row":22,"T":387},{"col":52,"row":22,"T":386},{"col":53,"row":22,"T":385},{"col":54,"row":22,"T":384},{"col":55,"row":22,"T":383}
],"boxes":[{"x0":0,"x1":676,"y0":0,"y1":649},{"x0":0,"x1":101,"y0":0,"y1":94},{"x0":576,"x1":676,"y0":0,"y1":94}],"lines":[{"x0":101,"x1":576,"y0":88},{"x0":0,"x1":676,"y0":105},{"x0":0,"x1":676,"y0":621}],"gate":[{"i":0,"gx":171,"gy":44},{"i":1,"gx":256,"gy":44},{"i":2,"gx":256,"gy":66},{"i":3,"gx":226,"gy":66},{"i":4,"gx":226,"gy":88},{"i":5,"gx":201,"gy":88},{"i":6,"gx":201,"gy":66},{"i":7,"gx":171,"gy":66},{"i":8,"gx":171,"gy":44}],"frameLine":[{"x0":-37,"y0":-33,"y1":339}]},"layer":[{"data":{"name":"cells"},"transform":[{"lookup":"col","from":{"data":{"name":"cols"},"key":"col","fields":["x0","x1"]}},{"lookup":"row","from":{"data":{"name":"rows"},"key":"row","fields":["y0","y1"]}}],"mark":{"type":"rect","strokeWidth":0},"encoding":{"x":{"field":"x0","type":"quantitative","scale":{"domain":[0,676],"nice":false,"zero":false},"axis":{"title":"x [um]","domain":false,"ticks":false,"labels":false,"grid":false,"titleFont":"Liberation Mono","titleFontSize":19.5,"titleFontWeight":"normal","titleColor":"#333333","titlePadding":13}},"x2":{"field":"x1"},"y":{"field":"y0","type":"quantitative","scale":{"domain":[649,0],"nice":false,"zero":false},"axis":{"title":"y [um]","domain":false,"ticks":false,"labels":false,"grid":false,"titleFont":"Liberation Mono","titleFontSize":19.5,"titleFontWeight":"normal","titleColor":"#333333","titlePadding":18}},"y2":{"field":"y1"},"color":{"field":"T","type":"quantitative","scale":{"type":"linear","interpolate":"rgb","clamp":true,"domain":[300,320,340,360,370,379.8,380,392,405,420,440,455,458,460],"range":["#0000ff","#0055ff","#00a0ff","#00ffff","#00ff90","#00ff40","#22f000","#99ff00","#ffff00","#ffb400","#ff6400","#ff2a00","#ff1a20","#ff0050"]},"legend":{"title":null,"orient":"none","legendX":697,"legendY":387,"direction":"vertical","gradientLength":317,"gradientThickness":41,"gradientStrokeColor":"#555555","gradientStrokeWidth":1,"values":[300,320,340,360,380,400,420,440,460],"labelExpr":"datum.value==460?'>460':datum.value==300?'<300':datum.label","labelFont":"Liberation Mono","labelFontSize":19,"labelColor":"#333333","labelOverlap":false,"labelOffset":56,"labelLimit":80,"encode":{"labels":{"update":{"align":{"value":"right"},"baseline":{"value":"middle"}}}}}}}},{"data":{"name":"boxes"},"mark":{"type":"rect","fill":"white","fillOpacity":0,"stroke":"#444444","strokeWidth":1.4},"encoding":{"x":{"field":"x0","type":"quantitative"},"x2":{"field":"x1"},"y":{"field":"y0","type":"quantitative"},"y2":{"field":"y1"}}},{"data":{"name":"lines"},"mark":{"type":"rule","stroke":"#222222","strokeWidth":1.3},"encoding":{"x":{"field":"x0","type":"quantitative"},"x2":{"field":"x1"},"y":{"field":"y0","type":"quantitative"}}},{"data":{"name":"frameLine"},"mark":{"type":"rule","stroke":"#333333","strokeWidth":1.2},"encoding":{"x":{"field":"x0","type":"quantitative"},"y":{"field":"y0","type":"quantitative"},"y2":{"field":"y1"}}},{"data":{"name":"gate"},"mark":{"type":"line","stroke":"#333333","strokeWidth":1.3},"encoding":{"x":{"field":"gx","type":"quantitative"},"y":{"field":"gy","type":"quantitative"},"order":{"field":"i","type":"ordinal"}}}]}
